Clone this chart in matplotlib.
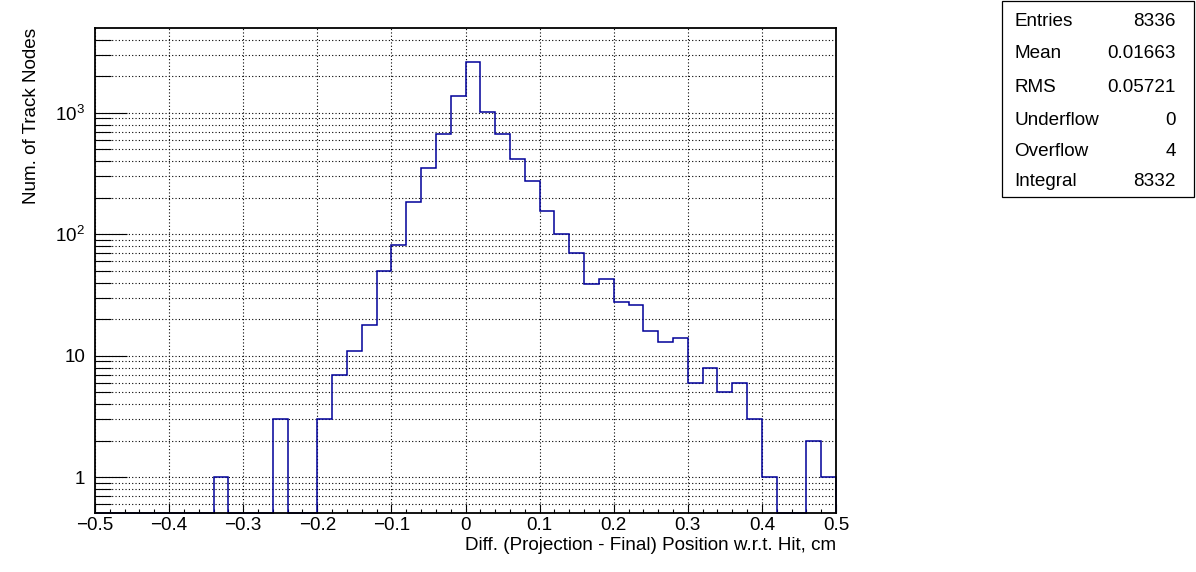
import numpy as np
import matplotlib
matplotlib.use('Agg')
import matplotlib.pyplot as plt
from matplotlib.ticker import FixedLocator, FixedFormatter, LogLocator, NullFormatter, MultipleLocator

plt.rcParams['font.family'] = ['Liberation Sans', 'DejaVu Sans']
plt.rcParams['mathtext.fontset'] = 'custom'
plt.rcParams['mathtext.rm'] = 'Liberation Sans'
plt.rcParams['mathtext.it'] = 'Liberation Sans:italic'

# ---- data ----
bin_lo, bin_hi, n_bins = -0.5, 0.5, 50
counts = [0, 0, 0, 0, 0, 0, 0, 0, 1, 0,
          0, 0, 3, 0, 0, 3, 7, 11, 18, 50,
          81, 185, 349, 670, 1380, 2620, 1010, 670, 414, 274,
          156, 100, 70, 39, 43, 28, 26, 16, 13, 14,
          6, 8, 5, 6, 3, 1, 0, 0, 2, 1]
x_ticks = [-0.5, -0.4, -0.3, -0.2, -0.1, 0.0, 0.1, 0.2, 0.3, 0.4, 0.5]
x_tick_labels = ['\u22120.5', '\u22120.4', '\u22120.3', '\u22120.2', '\u22120.1',
                 '0', '0.1', '0.2', '0.3', '0.4', '0.5']
y_ticks = [1, 10, 100, 1000]
y_tick_labels = ['1', '10', r'$\mathregular{10^{2}}$', r'$\mathregular{10^{3}}$']
x_title = 'Diff. (Projection - Final) Position w.r.t. Hit, cm'
y_title = 'Num. of Track Nodes'
stat_names = ['Entries', 'Mean', 'RMS', 'Underflow', 'Overflow', 'Integral']
stat_values = ['8336', '0.01663', '0.05721', '0', '4', '8332']

# ---- figure ----
W, H = 1196, 572
fig = plt.figure(figsize=(W / 100, H / 100), dpi=100)
L, R, T, B = 95, 836, 28, 513
ax = fig.add_axes([L / W, 1 - B / H, (R - L) / W, (B - T) / H])

ymin, ymax = 0.51, 4980
edges = np.linspace(bin_lo, bin_hi, n_bins + 1)
vals = np.array(counts, dtype=float)
vals_draw = np.where(vals > 0, vals, ymin)
ax.stairs(vals_draw, edges, baseline=ymin, color='#000099', linewidth=1.1,
          zorder=3, clip_on=False)

ax.set_yscale('log')
ax.set_xlim(bin_lo, bin_hi)
ax.set_ylim(ymin, ymax)

fs = 13.6
ax.xaxis.set_major_locator(FixedLocator(x_ticks))
ax.xaxis.set_major_formatter(FixedFormatter(x_tick_labels))
ax.xaxis.set_minor_locator(MultipleLocator(0.02))
ax.yaxis.set_major_locator(FixedLocator(y_ticks))
ax.yaxis.set_major_formatter(FixedFormatter(y_tick_labels))
ax.yaxis.set_minor_locator(LogLocator(base=10, subs=np.arange(2, 10), numticks=20))
ax.yaxis.set_minor_formatter(NullFormatter())

ax.tick_params(axis='x', which='major', direction='in', length=6.5, width=0.8,
               labelsize=fs, pad=3)
ax.tick_params(axis='x', which='minor', direction='in', length=3.2, width=0.8)
ax.tick_params(axis='y', which='major', direction='in', length=23, width=0.8,
               labelsize=fs, pad=7)
ax.tick_params(axis='y', which='minor', direction='in', length=11.5, width=0.8)

gstyle = dict(color='black', linestyle=(0, (1, 2)), linewidth=0.8)
ax.grid(True, which='major', axis='x', **gstyle)
ax.grid(True, which='both', axis='y', **gstyle)
ax.set_axisbelow(True)

for sp in ax.spines.values():
    sp.set_linewidth(1.3)
    sp.set_zorder(4)

fig.text(R / W, 1 - 545 / H, x_title, ha='right', va='center', fontsize=fs)
fig.text(32 / W, 1 - 28 / H, y_title, ha='center', va='top', rotation=90, fontsize=fs)

# ---- stats box ----
bx0, by0, bx1, by1 = 1002, 1, 1194, 197
box = plt.Rectangle((bx0 / W, 1 - by1 / H), (bx1 - bx0) / W, (by1 - by0) / H,
                    transform=fig.transFigure, facecolor='white', edgecolor='black',
                    linewidth=0.9)
fig.patches.append(box)
row_y = [21.5, 53.5, 87.5, 120.5, 151.5, 181.5]
for name, val, yy in zip(stat_names, stat_values, row_y):
    fig.text(1014 / W, 1 - yy / H, name, ha='left', va='center', fontsize=13.6)
    fig.text(1176 / W, 1 - yy / H, val, ha='right', va='center', fontsize=13.6)

fig.savefig('out.png', dpi=100)
